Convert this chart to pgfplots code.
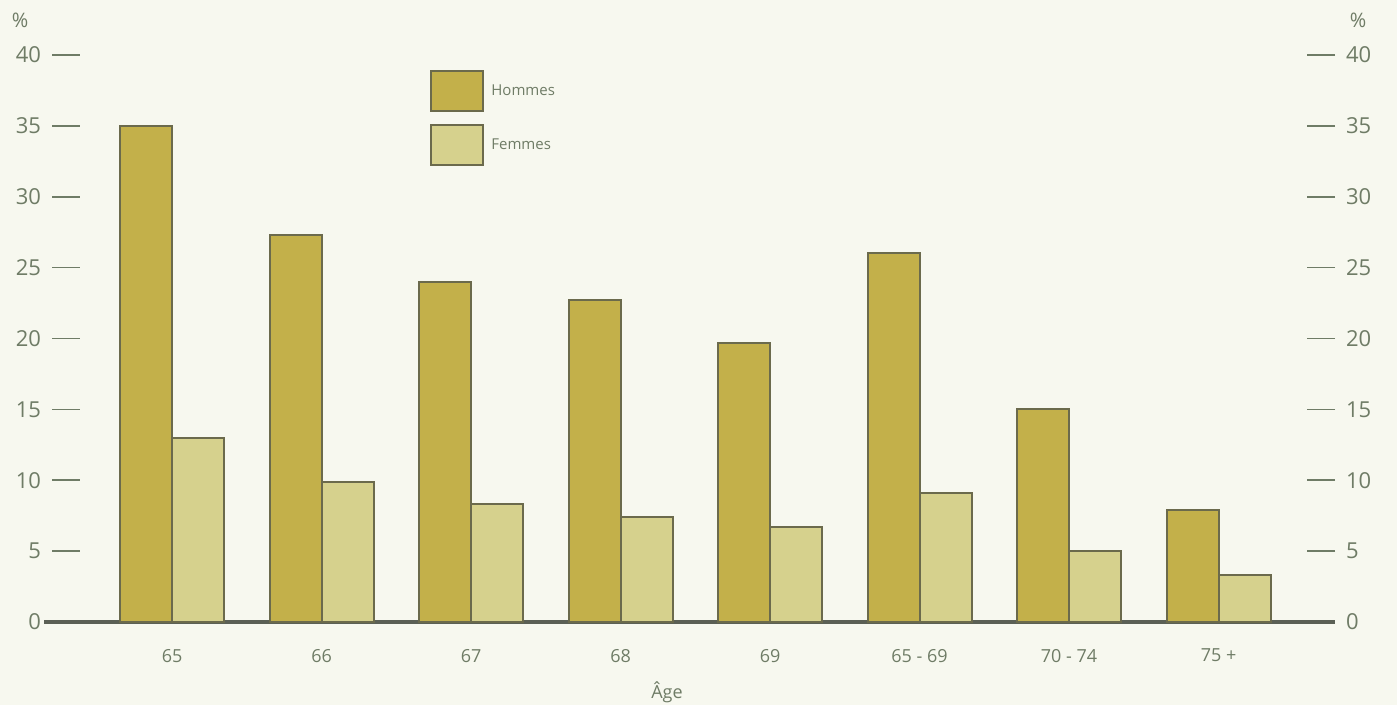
\documentclass[border=0pt]{standalone}
\usepackage{fontspec}
\setmainfont{Open Sans}
\usepackage{pgfplots}
\pgfplotsset{compat=1.18}
\definecolor{bg}{HTML}{F7F8EF}
\definecolor{hom}{HTML}{C3B04A}
\definecolor{fem}{HTML}{D6D18D}
\definecolor{edge}{HTML}{6B6A4C}
\definecolor{txt}{HTML}{6F7C66}
\definecolor{axl}{HTML}{5B6055}
\begin{document}
\begin{tikzpicture}
\path[use as bounding box] (-26pt,-41.5pt) rectangle (672.5pt,311pt);
\fill[bg] (-26pt,-41.5pt) rectangle (672.5pt,311pt);
\draw[axl, line width=2pt] (-4pt,0pt) -- (1pt,0pt);
\begin{axis}[
  scale only axis, width=641.5pt, height=283.5pt,
  xmin=-0.803, xmax=7.779, ymin=0, ymax=40,
  ybar=0pt, bar width=26pt,
  axis x line=bottom, axis y line=left,
  axis line style={-},
  x axis line style={line width=2pt, draw=axl},
  y axis line style={draw=none},
  xtick={0,...,7},
  xticklabels={65,66,67,68,69,65 - 69,70 - 74,75 +},
  x tick style={draw=none},
  xticklabel style={font=\fontsize{9}{11}\selectfont, text=txt, yshift=-10pt},
  ytick={5,10,...,40},
  extra y ticks={0},
  extra y tick style={y tick style={draw=none}},
  tick align=inside,
  y tick style={draw=txt, line width=0.8pt},
  major tick length=14pt,
  yticklabel style={font=\fontsize{11}{13}\selectfont, text=txt, xshift=-2pt},
  /pgf/number format/assume math mode=true,
  legend image code/.code={\draw[#1, draw=edge, line width=1pt] (0pt,-10pt) rectangle (26pt,10pt);},
  legend style={draw=none, fill=none, at={(0.2946,0.9735)}, anchor=north west,
    row sep=6pt, font=\fontsize{7.5}{9}\selectfont, text=txt, inner sep=0pt,
    nodes={inner sep=3.5pt}},
  legend cell align=left,
  clip=false,
]
\addplot[fill=hom, draw=edge, line width=1pt] coordinates {(0,35) (1,27.3) (2,24.0) (3,22.7) (4,19.7) (5,26.0) (6,15.0) (7,7.9)};
\addplot[fill=fem, draw=edge, line width=1pt] coordinates {(0,13.0) (1,9.9) (2,8.3) (3,7.4) (4,6.7) (5,9.1) (6,5.0) (7,3.3)};
\legend{Hommes, Femmes}
\end{axis}
\begin{axis}[
  scale only axis, width=641.5pt, height=283.5pt,
  xmin=-0.803, xmax=7.779, ymin=0, ymax=40,
  axis x line=none, axis y line=right,
  axis line style={-},
  y axis line style={draw=none},
  ytick={5,10,...,40},
  extra y ticks={0},
  extra y tick style={y tick style={draw=none}},
  tick align=inside,
  y tick style={draw=txt, line width=0.8pt},
  major tick length=14pt,
  yticklabel style={font=\fontsize{11}{13}\selectfont, text=txt, xshift=2pt},
  /pgf/number format/assume math mode=true,
]
\end{axis}
\node[text=txt, font=\fontsize{10}{12}\selectfont] at (-16pt,301pt) {\%};
\node[text=txt, font=\fontsize{10}{12}\selectfont] at (653pt,301pt) {\%};
\node[text=txt, font=\fontsize{9}{11}\selectfont] at (307.5pt,-35pt) {Âge};
\end{tikzpicture}
\end{document}
